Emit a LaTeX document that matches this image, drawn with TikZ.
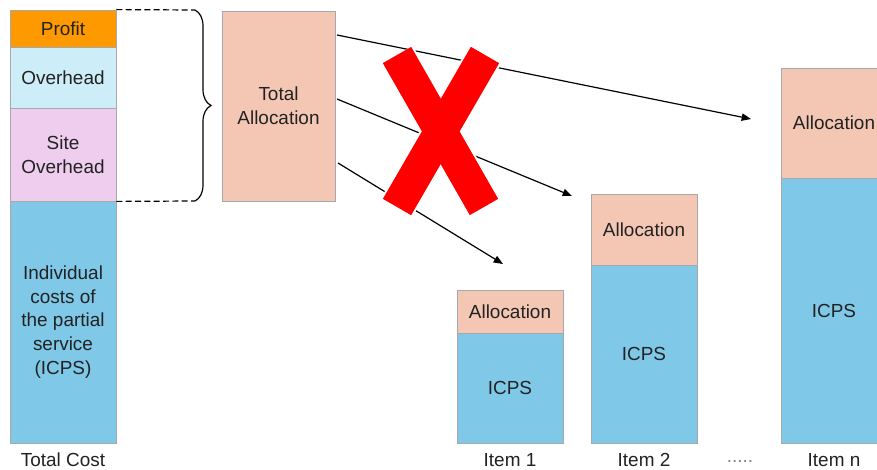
\documentclass[tikz,border=0pt]{standalone}
\usepackage{fontspec}
\setmainfont{Liberation Sans}
\usetikzlibrary{arrows.meta,decorations.pathreplacing}
\definecolor{profitc}{HTML}{FF9900}
\definecolor{overc}{HTML}{CDEEF8}
\definecolor{sitec}{HTML}{EFCDEE}
\definecolor{icpsc}{HTML}{7FC8E8}
\definecolor{allocc}{HTML}{F4C7B4}
\definecolor{edgec}{HTML}{A8A8A8}
\definecolor{txtc}{HTML}{222222}
\tikzset{
  blk/.style={draw=edgec, line width=0.6pt, fill=#1, inner sep=0pt, align=center,
    text=txtc, font=\fontsize{14.2}{17.8}\selectfont},
  lbl/.style={text=txtc, font=\fontsize{14.2}{17.8}\selectfont, inner sep=0pt},
  arr/.style={line width=0.9pt, -{Triangle[length=7pt,width=5.5pt]}},
  dsh/.style={line width=0.9pt, dash pattern=on 4.5pt off 2.5pt},
  crossbar/.style={draw=red, line width=24.5pt, line cap=butt}
}
\begin{document}
\begin{tikzpicture}[x=0.75pt,y=-0.75pt]
\clip (0,0) rectangle (877,470);
\fill[white] (0,0) rectangle (877,470);
% left column
\node[blk=profitc, minimum width=79.5pt, minimum height=27.75pt] (profit) at (63,28.5) {Profit};
\node[blk=overc, minimum width=79.5pt, minimum height=45.75pt] (over) at (63,77.5) {Overhead};
\node[blk=sitec, minimum width=79.5pt, minimum height=69.75pt] (site) at (63,154.5) {Site\\Overhead};
\node[blk=icpsc, minimum width=79.5pt, minimum height=181.5pt] (icps) at (63,322) {Individual\\costs of\\the partial\\service\\(ICPS)};
\node[lbl] (tc) at (63,460) {Total Cost};
% dashed lines and brace
\coordinate (bt) at (195,10);
\coordinate (bb) at (195,201);
\draw[dsh] (profit.north east) -- (bt);
\draw[dsh] (site.south east) -- (bb);
\draw[line width=0.9pt, decorate, decoration={brace, amplitude=12pt}] (bt) -- (bb);
% total allocation
\node[blk=allocc, minimum width=84.75pt, minimum height=142.5pt] (ta) at (278.5,106) {Total\\Allocation};
% item 1
\node[blk=allocc, minimum width=79.5pt, minimum height=32.25pt] (a1) at (510,311.5) {Allocation};
\node[blk=icpsc, minimum width=79.5pt, minimum height=82.5pt] (i1) at (510,388) {ICPS};
\node[lbl] (l1) at (510,460) {Item 1};
% item 2
\node[blk=allocc, minimum width=79.5pt, minimum height=53.25pt] (a2) at (644,229.5) {Allocation};
\node[blk=icpsc, minimum width=79.5pt, minimum height=133.5pt] (i2) at (644,354) {ICPS};
\node[lbl] (l2) at (644,460) {Item 2};
% item n
\node[blk=allocc, minimum width=79.5pt, minimum height=82.5pt] (an) at (834,123) {Allocation};
\node[blk=icpsc, minimum width=79.5pt, minimum height=198.75pt] (in) at (834,310.5) {ICPS};
\node[lbl] (ln) at (834,460) {Item n};
\node[lbl, text=gray] (dots) at (740,461) {.....};
% arrows
\coordinate (s1) at (337,35);
\coordinate (s2) at (337,99);
\coordinate (s3) at (338,163);
\coordinate (e1) at (751,119);
\coordinate (e2) at (572,196);
\coordinate (e3) at (503,264);
\draw[arr] (s1) -- (e1);
\draw[arr] (s2) -- (e2);
\draw[arr] (s3) -- (e3);
% red cross
\draw[white, line width=27.5pt] (397,55) -- (484,207);
\draw[white, line width=27.5pt] (485,55) -- (397,207);
\draw[crossbar] (397,55) -- (484,207);
\draw[crossbar] (485,55) -- (397,207);
\end{tikzpicture}
\end{document}
